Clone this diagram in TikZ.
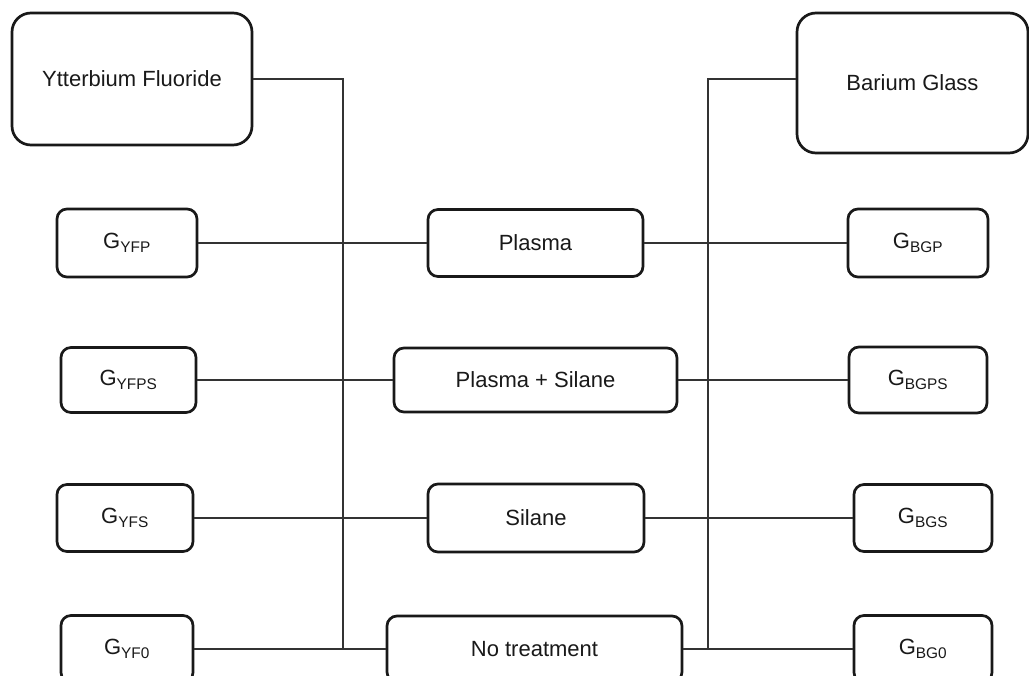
\documentclass[tikz,border=0pt]{standalone}
\usepackage{fontspec}
\setmainfont{Liberation Sans}
\begin{document}
\begin{tikzpicture}[x=1pt,y=-1pt,
  box/.style={draw=black!90, line width=2.7pt, rounded corners=10pt, inner sep=0pt,
    font=\fontsize{22}{26}\selectfont, text=black!90, align=center},
  bigbox/.style={box, rounded corners=19pt},
  conn/.style={draw=black!80, line width=1.3pt}]
\useasboundingbox (0,0) rectangle (1029,676);
\clip (0,0) rectangle (1029,676);
\fill[white] (0,0) rectangle (1029,676);
% big boxes
\node[bigbox, minimum width=240pt, minimum height=132pt] (yf) at (132,79) {Ytterbium Fluoride};
\node[bigbox, minimum width=231pt, minimum height=140pt] (bg) at (912.5,83) {Barium Glass};
% row 1
\node[box, minimum width=140pt, minimum height=68pt] (gyfp) at (127,243) {G\textsubscript{YFP}};
\node[box, minimum width=215pt, minimum height=67pt] (plasma) at (535.5,243) {Plasma};
\node[box, minimum width=140pt, minimum height=68pt] (gbgp) at (918,243) {G\textsubscript{BGP}};
% row 2
\node[box, minimum width=135pt, minimum height=65pt] (gyfps) at (128.5,380) {G\textsubscript{YFPS}};
\node[box, minimum width=283pt, minimum height=64pt] (ps) at (535.5,380) {Plasma + Silane};
\node[box, minimum width=138pt, minimum height=66pt] (gbgps) at (918,380) {G\textsubscript{BGPS}};
% row 3
\node[box, minimum width=136pt, minimum height=67pt] (gyfs) at (125,518) {G\textsubscript{YFS}};
\node[box, minimum width=216pt, minimum height=68pt] (silane) at (536,518) {Silane};
\node[box, minimum width=138pt, minimum height=67pt] (gbgs) at (923,518) {G\textsubscript{BGS}};
% row 4
\node[box, minimum width=132pt, minimum height=67pt] (gyf0) at (127,649) {G\textsubscript{YF0}};
\node[box, minimum width=295pt, minimum height=66pt] (none) at (534.5,649) {No treatment};
\node[box, minimum width=138pt, minimum height=67pt] (gbg0) at (923,649) {G\textsubscript{BG0}};
% trunks
\coordinate (lt) at (343,649);
\coordinate (rt) at (708,649);
\draw[conn] (yf.east) -| (lt);
\draw[conn] (bg.west |- yf.east) -| (rt);
% rows
\draw[conn] (gyfp.east) -- (plasma.west);
\draw[conn] (plasma.east) -- (gbgp.west);
\draw[conn] (gyfps.east) -- (ps.west);
\draw[conn] (ps.east) -- (gbgps.west);
\draw[conn] (gyfs.east) -- (silane.west);
\draw[conn] (silane.east) -- (gbgs.west);
\draw[conn] (gyf0.east) -- (none.west);
\draw[conn] (none.east) -- (gbg0.west);
\end{tikzpicture}
\end{document}
